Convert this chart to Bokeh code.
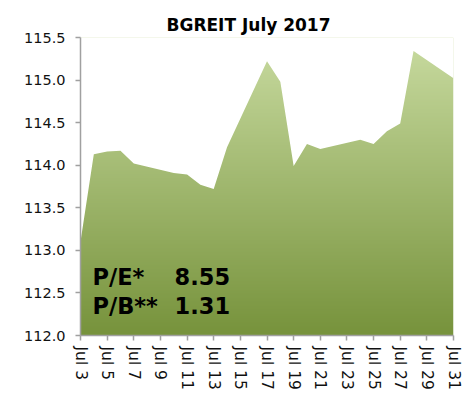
import numpy as np
from bokeh.plotting import figure
from bokeh.models import Range1d, FixedTicker, Label, NumeralTickFormatter
from bokeh.embed import file_html
from bokeh.resources import INLINE

# ---- data ----
days = [3, 4, 5, 6, 7, 10, 11, 12, 13, 14, 17, 18, 19, 20, 21, 24, 25, 26, 27, 28, 31]
values = [113.10, 114.13, 114.16, 114.17, 114.02, 113.91, 113.89, 113.77, 113.72, 114.21,
          115.22, 114.98, 113.99, 114.25, 114.19, 114.30, 114.25, 114.40, 114.49, 115.34, 115.02]
tick_days = [3, 5, 7, 9, 11, 13, 15, 17, 19, 21, 23, 25, 27, 29, 31]
tick_labels = ["Jul 3", "Jul 5", "Jul 7", "Jul 9", "Jul 11", "Jul 13", "Jul 15", "Jul 17",
               "Jul 19", "Jul 21", "Jul 23", "Jul 25", "Jul 27", "Jul 29", "Jul 31"]
y_ticks = [112.0, 112.5, 113.0, 113.5, 114.0, 114.5, 115.0, 115.5]
ratio_names = ["P/E*", "P/B**"]
ratio_values = ["8.55", "1.31"]
title_text = "BGREIT July 2017"

FONT = "DejaVu Sans"
x_lo, x_hi = days[0], days[-1]
y_lo, y_hi = y_ticks[0], y_ticks[-1]

p = figure(width=463, height=399,
           x_range=Range1d(x_lo, x_hi), y_range=Range1d(y_lo, y_hi),
           output_backend="svg", toolbar_location=None,
           min_border_left=80, min_border_right=10, min_border_top=37, min_border_bottom=64)
p.outline_line_color = None
p.grid.visible = False
p.background_fill_color = "white"
p.border_fill_color = "white"

# title
p.title.text = title_text
p.title.align = "left"
p.title.offset = 86
p.title.text_font = FONT
p.title.text_font_size = "17px"
p.title.text_font_style = "bold"
p.title.text_color = "#000000"
p.title.standoff = 6

# gradient fill (image) with white cover above the series
H = 256
ys = np.linspace(y_lo, y_hi, H)
t = np.clip((ys - y_lo) / (max(values) - y_lo), 0, 1)
dark = np.array([119, 147, 60])
light = np.array([197, 216, 156])
img = np.zeros((H, 1), dtype=np.uint32)
view = img.view(dtype=np.uint8).reshape((H, 1, 4))
for c in range(3):
    view[:, 0, c] = (dark[c] + (light[c] - dark[c]) * t).astype(np.uint8)
view[:, 0, 3] = 255
p.image_rgba(image=[img], x=x_lo, y=y_lo, dw=x_hi - x_lo, dh=y_hi - y_lo)
p.varea(x=days, y1=values, y2=y_hi, fill_color="white", fill_alpha=1.0)

# axes
for ax in (p.xaxis[0], p.yaxis[0]):
    ax.axis_line_color = "#a0a0a0"
    ax.axis_line_width = 1.5
    ax.major_tick_line_color = "#a0a0a0"
    ax.major_tick_line_width = 1.5
    ax.major_tick_in = 0
    ax.major_tick_out = 5
    ax.minor_tick_line_color = None
    ax.major_label_text_font = FONT
    ax.major_label_text_color = "#111111"

p.xaxis.major_label_text_font_size = "15.5px"
p.yaxis.major_label_text_font_size = "14.5px"
p.xaxis.ticker = FixedTicker(ticks=tick_days)
p.xaxis.major_label_overrides = {d: lab for d, lab in zip(tick_days, tick_labels)}
p.xaxis.major_label_orientation = "vertical"
p.xaxis.major_label_standoff = 6
p.yaxis.ticker = FixedTicker(ticks=y_ticks)
p.yaxis.formatter = NumeralTickFormatter(format="0.0")
p.yaxis.major_label_standoff = 10

# ratio labels
for name, val, yy in zip(ratio_names, ratio_values, [112.69, 112.35]):
    p.add_layout(Label(x=3.9, y=yy, text=name, text_font=FONT, text_font_size="22.5px",
                       text_font_style="bold", text_color="#000000", text_baseline="alphabetic"))
    p.add_layout(Label(x=10.06, y=yy, text=val, text_font=FONT, text_font_size="22.5px",
                       text_font_style="bold", text_color="#000000", text_baseline="alphabetic"))

open("out.html", "w").write(file_html(p, INLINE))
